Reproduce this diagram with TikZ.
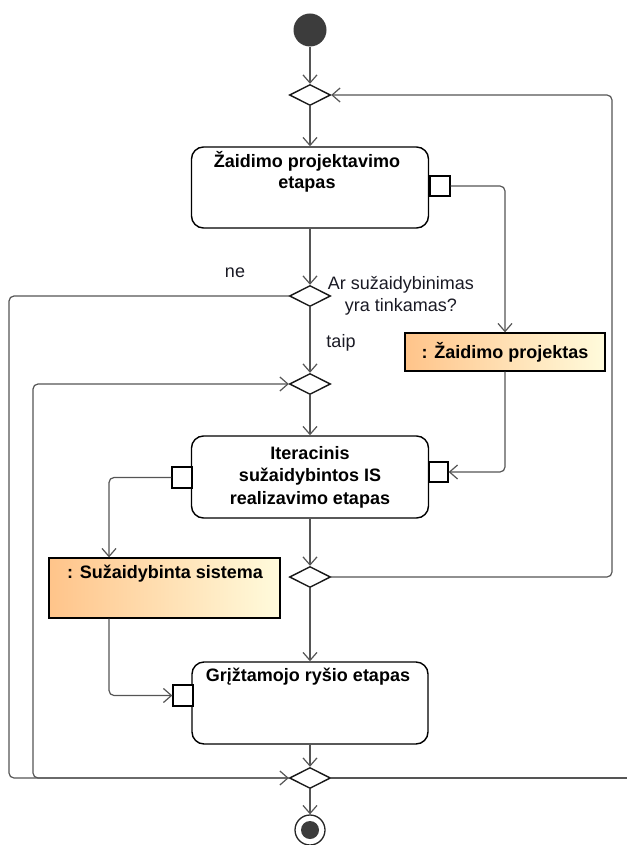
\documentclass[tikz,border=0pt]{standalone}
\usepackage{fontspec}
\setmainfont{Liberation Sans}
\usetikzlibrary{arrows.meta,shapes.geometric}
\definecolor{linegray}{HTML}{555555}
\definecolor{startfill}{HTML}{3C3C3C}
\definecolor{objleft}{HTML}{FFC48A}
\definecolor{objright}{HTML}{FFFBDC}
\definecolor{guardtext}{HTML}{1A1A24}

\begin{document}
\begin{tikzpicture}[x=1pt,y=-1pt,
  every node/.style={font=\fontsize{18}{21}\selectfont},
  action/.style={draw=black, line width=1.4pt, rounded corners=12pt, fill=white,
    inner sep=0pt, align=center, font=\fontsize{18}{22.5}\selectfont\bfseries},
  boxtitle/.style={inner sep=0pt, align=center, font=\fontsize{18}{20.5}\selectfont\bfseries},
  objectbox/.style={draw=black, line width=1.3pt, left color=objleft, right color=objright,
    inner sep=0pt, font=\fontsize{18}{21}\selectfont\bfseries},
  pinbox/.style={draw=black, line width=1.3pt, fill=white, inner sep=0pt,
    minimum width=20pt, minimum height=20pt},
  merge/.style={diamond, draw=black!90, line width=1.4pt, fill=white, inner sep=0pt,
    minimum width=41pt, minimum height=21pt},
  guard/.style={inner sep=0pt, align=center, text=guardtext},
  flowline/.style={draw=linegray, line width=1.2pt, rounded corners=5pt,
    -{Straight Barb[length=8pt,width=14pt,line width=1.2pt]}},
  plainline/.style={draw=linegray, line width=1.2pt, rounded corners=5pt}
]
\useasboundingbox (0,0) rectangle (627,845);

% rails of the loops
\coordinate (leftouter) at (9,0);
\coordinate (leftinner) at (33,0);
\coordinate (rightrail) at (612,0);
\coordinate (exitright) at (627,778);

% initial and final nodes
\node[circle, fill=startfill, minimum size=33pt, inner sep=0pt] (start) at (310,30) {};
\node[circle, draw=black!85, line width=1.3pt, fill=white, minimum size=30pt, inner sep=0pt] (end) at (310,830) {};
\node[circle, fill=startfill, minimum size=18pt, inner sep=0pt] (enddot) at (end.center) {};

% merge / decision nodes
\node[merge] (m1) at (310,95) {};
\node[merge] (d2) at (310,296) {};
\node[merge] (m3) at (310,384) {};
\node[merge] (d4) at (310,577) {};
\node[merge] (d5) at (310,778) {};

% actions
\node[action, minimum width=237pt, minimum height=81pt] (design) at (310,187.5) {};
\node[boxtitle] (designtext) at (307,172) {Žaidimo projektavimo\\etapas};
\node[pinbox] (pinA) at (440,186) {};

\node[action, minimum width=237pt, minimum height=82pt] (iter) at (310,477)
  {Iteracinis\\sužaidybintos IS\\realizavimo etapas};
\node[pinbox, minimum height=21pt] (pinBl) at (182,477.5) {};
\node[pinbox, minimum width=19pt] (pinBr) at (438.5,472) {};

\node[action, minimum width=236pt, minimum height=82pt] (feedback) at (310,703) {};
\node[boxtitle] (feedbacktext) at (308,677) {Grįžtamojo ryšio etapas};
\node[pinbox, minimum height=21pt] (pinC) at (183,695.5) {};

% object nodes
\node[objectbox, minimum width=200pt, minimum height=38pt] (proj) at (505,352)
  {\raisebox{2pt}{: Žaidimo projektas}};
\node[objectbox, minimum width=231pt, minimum height=60pt] (sys) at (164.5,588) {};
\node[boxtitle] (systext) at (165,574) {: Sužaidybinta sistema};

% guards and decision question
\node[guard] (guardno) at (235,273) {ne};
\node[guard] (guardyes) at (341,343) {taip};
\node[guard, font=\fontsize{18}{22}\selectfont] (question) at (401,296)
  {Ar sužaidybinimas\\ yra tinkamas?};

% main control flow
\draw[flowline] (start) -- (m1);
\draw[flowline] (m1) -- (design);
\draw[flowline] (design) -- (d2);
\draw[flowline] (d2) -- (m3);
\draw[flowline] (m3) -- (iter);
\draw[flowline] (iter) -- (d4);
\draw[flowline] (d4) -- (feedback);
\draw[flowline] (feedback) -- (d5);
\draw[flowline] (d5) -- (end);

% object flows
\draw[flowline] (pinA.east) -| (proj.north);
\draw[flowline] (proj.south) |- (pinBr.east);
\draw[flowline] (pinBl.west) -| ([xshift=-55.5pt]sys.north);
\draw[flowline] ([xshift=-55.5pt]sys.south) |- (pinC.west);

% loops
\draw[flowline] (d4.east) -- (d4.east -| rightrail) -- (m1.east -| rightrail) -- (m1.east);
\draw[flowline] (d2.west) -- (d2.west -| leftouter) -- (d5.west -| leftouter) -- (d5.west);
\draw[flowline] (d5.west) -- (d5.west -| leftinner) -- (m3.west -| leftinner) -- (m3.west);
\draw[plainline] (d5.east) -- (exitright);
\end{tikzpicture}
\end{document}
